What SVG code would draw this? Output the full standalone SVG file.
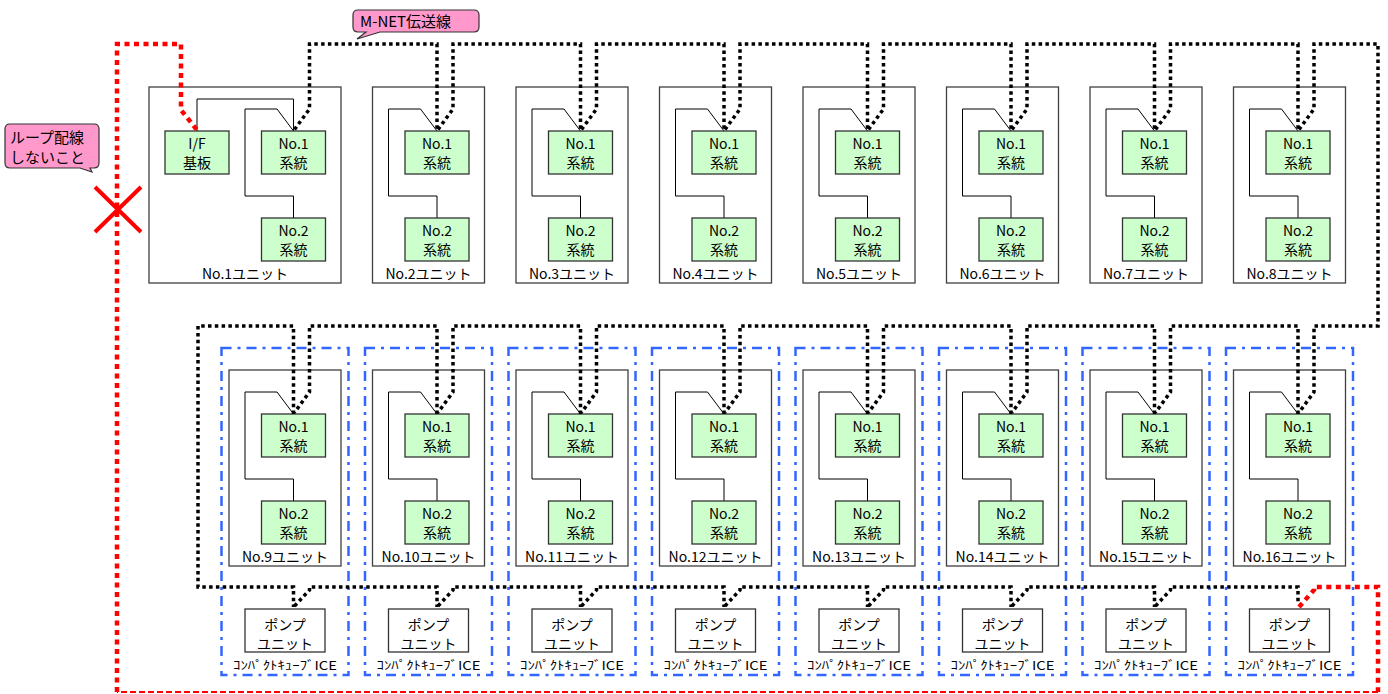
<svg xmlns="http://www.w3.org/2000/svg" width="1388" height="694" viewBox="0 0 1388 694">
<style>
.bg{fill:#fff}
.unit{fill:#fff;stroke:#404040;stroke-width:1.3}
.sys{fill:#CCFFCC;stroke:#333;stroke-width:1.3}
.pump{fill:#fff;stroke:#333;stroke-width:1.3}
.wire{fill:none;stroke:#000;stroke-width:1}
.mnet{fill:none;stroke:#000;stroke-width:3.5;stroke-dasharray:3.5 3.3}
.red{fill:none;stroke:#FF0000;stroke-width:4.5;stroke-dasharray:5 4.5}
.redthin{fill:none;stroke:#FF0000;stroke-width:1.8;stroke-dasharray:6 3}
.blue{fill:none;stroke:#3366FF;stroke-width:2.5;stroke-dasharray:10 6 3 6}
.callout{fill:#FF99CC;stroke:#333;stroke-width:1.2}
text{font-family:"Noto Sans CJK JP","Noto Sans",sans-serif;font-size:14px;fill:#000}
.c{text-anchor:middle}
.big{font-size:15px}
.small{font-size:12px}
</style>
<defs>
<g id="u">
<rect class="unit" x="0" y="0" width="112" height="196"/>
<path class="wire" d="M48,22 H16 V109 H64.5 V131 M48,22 L64.5,44"/>
<rect class="sys" x="32.5" y="44" width="64" height="43"/>
<rect class="sys" x="32.5" y="131" width="64" height="43"/>
<text class="c" x="64.5" y="62">No.1</text>
<text class="c" x="64.5" y="81">系統</text>
<text class="c" x="64.5" y="149">No.2</text>
<text class="c" x="64.5" y="168">系統</text>
</g>
<g id="p">
<rect class="pump" x="16" y="0" width="80" height="43"/>
<text class="c" x="56" y="21">ポンプ</text>
<text class="c" x="56" y="40">ユニット</text>
<text class="c small" x="56" y="61" textLength="104" lengthAdjust="spacingAndGlyphs">ｺﾝﾊﾟｸﾄｷｭｰﾌﾞICE</text>
</g>
</defs>
<rect class="bg" x="0" y="0" width="1388" height="694"/>

<g id="unit1">
<rect class="unit" x="149" y="87" width="192" height="196"/>
<path class="wire" d="M277,109 H245 V196 H293.5 V218 M277,109 L293.5,131 M197,131 V99 H293.5 V131"/>
<rect class="sys" x="165" y="131" width="64" height="43"/>
<rect class="sys" x="261.5" y="131" width="64" height="43"/>
<rect class="sys" x="261.5" y="218" width="64" height="43"/>
<text class="c" x="197" y="149">I/F</text>
<text class="c" x="197" y="168">基板</text>
<text class="c" x="293.5" y="149">No.1</text>
<text class="c" x="293.5" y="168">系統</text>
<text class="c" x="293.5" y="236">No.2</text>
<text class="c" x="293.5" y="255">系統</text>
<text class="c" x="245" y="279">No.1ユニット</text>
</g>
<g id="unit2"><use href="#u" x="372.5" y="87"/><text class="c" x="428.5" y="279">No.2ユニット</text></g>
<g id="unit3"><use href="#u" x="516" y="87"/><text class="c" x="572" y="279">No.3ユニット</text></g>
<g id="unit4"><use href="#u" x="659.5" y="87"/><text class="c" x="715.5" y="279">No.4ユニット</text></g>
<g id="unit5"><use href="#u" x="803" y="87"/><text class="c" x="859" y="279">No.5ユニット</text></g>
<g id="unit6"><use href="#u" x="946.5" y="87"/><text class="c" x="1002.5" y="279">No.6ユニット</text></g>
<g id="unit7"><use href="#u" x="1090" y="87"/><text class="c" x="1146" y="279">No.7ユニット</text></g>
<g id="unit8"><use href="#u" x="1233.5" y="87"/><text class="c" x="1289.5" y="279">No.8ユニット</text></g>

<g id="cube9"><rect class="blue" x="221.5" y="348" width="127" height="327"/><use href="#u" x="229" y="370"/><text class="c" x="285" y="562">No.9ユニット</text><use href="#p" x="229" y="609"/></g>
<g id="cube10"><rect class="blue" x="365" y="348" width="127" height="327"/><use href="#u" x="372.5" y="370"/><text class="c" x="428.5" y="562">No.10ユニット</text><use href="#p" x="372.5" y="609"/></g>
<g id="cube11"><rect class="blue" x="508.5" y="348" width="127" height="327"/><use href="#u" x="516" y="370"/><text class="c" x="572" y="562">No.11ユニット</text><use href="#p" x="516" y="609"/></g>
<g id="cube12"><rect class="blue" x="652" y="348" width="127" height="327"/><use href="#u" x="659.5" y="370"/><text class="c" x="715.5" y="562">No.12ユニット</text><use href="#p" x="659.5" y="609"/></g>
<g id="cube13"><rect class="blue" x="795.5" y="348" width="127" height="327"/><use href="#u" x="803" y="370"/><text class="c" x="859" y="562">No.13ユニット</text><use href="#p" x="803" y="609"/></g>
<g id="cube14"><rect class="blue" x="939" y="348" width="127" height="327"/><use href="#u" x="946.5" y="370"/><text class="c" x="1002.5" y="562">No.14ユニット</text><use href="#p" x="946.5" y="609"/></g>
<g id="cube15"><rect class="blue" x="1082.5" y="348" width="127" height="327"/><use href="#u" x="1090" y="370"/><text class="c" x="1146" y="562">No.15ユニット</text><use href="#p" x="1090" y="609"/></g>
<g id="cube16"><rect class="blue" x="1226" y="348" width="127" height="327"/><use href="#u" x="1233.5" y="370"/><text class="c" x="1289.5" y="562">No.16ユニット</text><use href="#p" x="1233.5" y="609"/></g>

<g id="connectors">
<path class="mnet" d="M294.5,129.5 L309.5,109 V44 H437 V131"/>
<path class="mnet" d="M438,129.5 L453,109 V44 H580.5 V131"/>
<path class="mnet" d="M581.5,129.5 L596.5,109 V44 H724 V131"/>
<path class="mnet" d="M725,129.5 L740,109 V44 H867.5 V131"/>
<path class="mnet" d="M868.5,129.5 L883.5,109 V44 H1011 V131"/>
<path class="mnet" d="M1012,129.5 L1027,109 V44 H1154.5 V131"/>
<path class="mnet" d="M1155.5,129.5 L1170.5,109 V44 H1298 V131"/>
<path class="mnet" d="M1299,129.5 L1314,109 V44 H1378 V326 H1314 V392 L1299,412.5"/>
<path class="mnet" d="M1298,414 V326 H1170.5 V392 L1155.5,412.5"/>
<path class="mnet" d="M1154.5,414 V326 H1027 V392 L1012,412.5"/>
<path class="mnet" d="M1011,414 V326 H883.5 V392 L868.5,412.5"/>
<path class="mnet" d="M867.5,414 V326 H740 V392 L725,412.5"/>
<path class="mnet" d="M724,414 V326 H596.5 V392 L581.5,412.5"/>
<path class="mnet" d="M580.5,414 V326 H453 V392 L438,412.5"/>
<path class="mnet" d="M437,414 V326 H309.5 V392 L294.5,412.5"/>
<path class="mnet" d="M293.5,414 V326 H198 V587 H293.5 V607"/>
<path class="mnet" d="M294.5,606 L309.5,590 V587 H437 V607"/>
<path class="mnet" d="M438,606 L453,590 V587 H580.5 V607"/>
<path class="mnet" d="M581.5,606 L596.5,590 V587 H724 V607"/>
<path class="mnet" d="M725,606 L740,590 V587 H867.5 V607"/>
<path class="mnet" d="M868.5,606 L883.5,590 V587 H1011 V607"/>
<path class="mnet" d="M1012,606 L1027,590 V587 H1154.5 V607"/>
<path class="mnet" d="M1155.5,606 L1170.5,590 V587 H1298 V603"/>
<path class="red" d="M1299,607 L1314,590 V587 H1378 V692"/>
<path class="redthin" d="M1378,692 H117"/>
<path class="red" d="M117,692 V44 H181 V110 L197,130"/>
</g>

<g id="cross">
<path d="M95,187 L141,232 M141,187 L95,232" fill="none" stroke="#FF0000" stroke-width="4"/>
</g>

<g id="callout-mnet">
<path class="callout" d="M358,10 H474 Q479,10 479,15 V27 Q479,32 474,32 H380 L357,39 L366,32 H358 Q353,32 353,27 V15 Q353,10 358,10 Z"/>
<text class="big" x="360" y="27">M-NET伝送線</text>
</g>
<g id="callout-loop">
<path class="callout" d="M10,124 H94 Q99,124 99,129 V163 Q99,168 94,168 H90 L92,172 L80,168 H10 Q5,168 5,163 V129 Q5,124 10,124 Z"/>
<text class="big" x="10" y="143">ループ配線</text>
<text class="big" x="10" y="163">しないこと</text>
</g>
</svg>
